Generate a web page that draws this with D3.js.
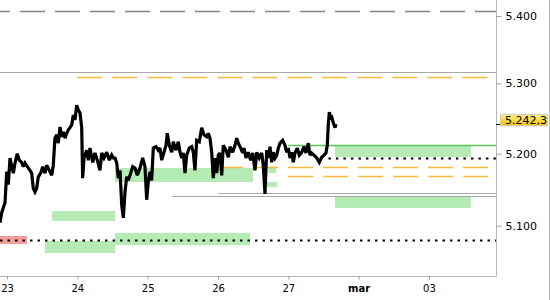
<!DOCTYPE html>
<html><head><meta charset="utf-8">
<script src="https://cdn.jsdelivr.net/npm/d3@7/dist/d3.min.js"></script>
<style>body{margin:0;background:#fff}svg{display:block}</style>
</head><body>
<svg id="c" width="550" height="300"></svg>
<script>
// ---------- data ----------
const dayLabels = ["23","24","25","26","27","mar","03"];
const dayIndex = [0,1,2,3,4,5,6];
const yTicks = [5.1,5.2,5.3,5.4];
const lastPrice = 5.2423;

const priceTimes = [
-0.100,-0.075,-0.053,-0.028,-0.004,0.018,0.043,0.067,0.090,0.114,
0.146,0.175,0.209,0.232,0.256,0.289,0.327,0.351,0.374,0.398,
0.422,0.445,0.479,0.508,0.540,0.564,0.601,0.636,0.658,0.682,
0.707,0.729,0.754,0.778,0.801,0.825,0.849,0.872,0.896,0.920,
0.943,0.967,0.991,1.014,1.038,1.062,1.076,1.095,1.133,1.156,
1.180,1.219,1.251,1.284,1.322,1.347,1.379,1.418,1.455,1.489,1.511,
1.536,1.560,1.583,1.607,1.631,1.654,1.678,1.702,1.725,1.759,
1.787,1.820,1.853,1.891,1.929,1.962,1.986,2.009,2.033,2.057,
2.080,2.119,2.151,2.175,2.200,2.232,2.261,2.279,2.308,2.342,
2.365,2.403,2.436,2.460,2.484,2.507,2.531,2.555,2.592,2.626,
2.649,2.673,2.697,2.734,2.768,2.801,2.840,2.862,2.886,2.911,
2.933,2.957,2.982,3.004,
3.029,3.053,3.075,3.114,3.147,3.171,3.209,3.242,3.266,3.289,
3.323,3.351,3.370,3.398,3.431,3.465,3.494,3.526,3.551,3.587,
3.622,3.644,3.668,3.693,3.715,3.740,3.764,3.786,3.811,3.835,
3.858,3.882,3.920,3.953,3.977,4.000,4.024,4.048,4.071,4.095,
4.128,4.156,4.190,4.223,4.251,4.284,4.308,4.332,4.365,4.404,
4.440,4.474,4.507,4.535,4.554,4.568,4.583,4.603,4.617,4.640,
4.664,4.678];
const priceValues = [
5.104,5.118,5.125,5.132,5.175,5.157,5.194,5.182,5.173,5.187,
5.200,5.191,5.188,5.182,5.187,5.182,5.177,5.173,5.152,5.147,
5.152,5.168,5.173,5.182,5.173,5.184,5.177,5.170,5.184,5.222,
5.227,5.215,5.238,5.224,5.231,5.222,5.229,5.234,5.237,5.241,
5.255,5.248,5.269,5.262,5.258,5.237,5.166,5.194,5.205,5.191,
5.208,5.188,5.201,5.191,5.177,5.201,5.194,5.202,5.191,5.198,5.194,
5.194,5.187,5.166,5.177,5.129,5.111,5.147,5.168,5.163,5.173,
5.182,5.180,5.170,5.180,5.194,5.182,5.136,5.161,5.175,5.163,
5.208,5.210,5.205,5.208,5.191,5.202,5.212,5.229,5.212,5.202,
5.217,5.205,5.217,5.202,5.194,5.201,5.173,5.198,5.208,5.210,
5.202,5.177,5.219,5.217,5.237,5.227,5.224,5.229,5.222,5.202,
5.166,5.194,5.173,5.198,
5.201,5.170,5.212,5.205,5.195,5.210,5.202,5.212,5.222,5.215,
5.208,5.201,5.208,5.194,5.202,5.191,5.201,5.177,5.202,5.194,
5.201,5.184,5.144,5.205,5.194,5.210,5.188,5.202,5.194,5.198,
5.208,5.215,5.219,5.212,5.202,5.208,5.194,5.202,5.188,5.201,
5.208,5.198,5.202,5.210,5.201,5.215,5.198,5.201,5.198,5.194,
5.188,5.195,5.198,5.201,5.212,5.241,5.259,5.251,5.252,5.244,
5.237,5.242];

// zones: [startDay, endDay, high, low]
const greenZones = [
  [0.540,1.536,5.0788,5.0621],
  [0.640,1.536,5.1204,5.1065],
  [1.536,3.455,5.0899,5.0732],
  [1.536,3.498,5.1801,5.1607],
  [3.640,3.839,5.1607,5.1538],
  [3.715,3.825,5.1819,5.1728],
  [4.664,6.597,5.2109,5.1954],
  [4.664,6.597,5.1415,5.1246]
];
const redZones = [[-0.0995,0.284,5.0857,5.0746]];

// horizontal levels: [startDay, value]
const greyDashedLevels = [[-0.0995,5.4074]];
const greySolidLevels = [[-0.0995,5.3170],[3.0,5.1450],[2.35,5.1408]];
const orangeDashedLevels = [[1.0,5.3094],[3.0,5.1811],[4.0,5.1686]];
const greenLevels = [[4.0,5.2124]];
const blackDottedLevels = [[-0.0995,5.0801],[4.57,5.1944]];

// ---------- drawing ----------
const svg = d3.select("#c");
const plotR = 496, plotB = 276;
const x = d3.scaleLinear().domain([-0.0995, 6.953]).range([0, plotR]);
const y = d3.scaleLinear().domain([5.1,5.2,5.3,5.4]).range([225.7,153.7,83.3,16]);
const xEnd = x.domain()[1];

// zones
svg.append("g").selectAll("rect").data(greenZones).join("rect")
  .attr("x", d => x(d[0])).attr("width", d => x(d[1]) - x(d[0]))
  .attr("y", d => y(d[2])).attr("height", d => y(d[3]) - y(d[2]))
  .attr("fill", "#b5ebb5");
svg.append("g").selectAll("rect").data(redZones).join("rect")
  .attr("x", d => x(d[0])).attr("width", d => x(d[1]) - x(d[0]))
  .attr("y", d => y(d[2])).attr("height", d => y(d[3]) - y(d[2]))
  .attr("fill", "#f59c9c");

function levels(data, stroke, width, dash, offset) {
  svg.append("g").selectAll("line").data(data).join("line")
    .attr("x1", d => x(d[0])).attr("x2", x(xEnd))
    .attr("y1", d => Math.round(y(d[1])) + 0.5).attr("y2", d => Math.round(y(d[1])) + 0.5)
    .attr("stroke", stroke).attr("stroke-width", width)
    .attr("stroke-dasharray", dash || null)
    .attr("stroke-dashoffset", offset || 0);
}
levels(greyDashedLevels, "#858585", 1.3, "25,10", 15);
levels(greySolidLevels, "#a8a8a8", 1.2);
levels(orangeDashedLevels, "#f7b93a", 1.3, "25,10");
levels(greenLevels, "#58c458", 1.4);
levels(blackDottedLevels, "#000", 2, "2.5,5");

// price line
const pts = priceTimes.map((t, i) => [t, priceValues[i]]);
svg.append("path").datum(pts)
  .attr("fill", "none").attr("stroke", "#000").attr("stroke-width", 3.2)
  .attr("stroke-linejoin", "miter").attr("stroke-miterlimit", 2.5)
  .attr("d", d3.line().x(d => x(d[0])).y(d => y(d[1])));

// frame
svg.append("line").attr("x1", 0).attr("x2", plotR + 0.5).attr("y1", plotB + 0.5).attr("y2", plotB + 0.5)
  .attr("stroke", "#b4b4b4").attr("stroke-width", 1);
svg.append("line").attr("x1", plotR + 0.5).attr("x2", plotR + 0.5).attr("y1", 0).attr("y2", plotB + 0.5)
  .attr("stroke", "#b4b4b4").attr("stroke-width", 1);
svg.append("line").attr("x1", 549.5).attr("x2", 549.5).attr("y1", 0).attr("y2", 300)
  .attr("stroke", "#b4b4b4").attr("stroke-width", 1);

// x axis
const xAxis = svg.append("g").attr("transform", `translate(0,${plotB + 0.5})`)
  .call(d3.axisBottom(x).tickValues(dayIndex).tickFormat((d, i) => dayLabels[i]).tickSize(3).tickPadding(5));
xAxis.select(".domain").remove();
xAxis.selectAll(".tick line").attr("stroke", "#a0a0a0");
xAxis.selectAll(".tick text").attr("font-family", "DejaVu Sans, Verdana, sans-serif")
  .attr("font-size", 10).attr("fill", "#000")
  .attr("font-weight", (d, i) => dayLabels[i] === "mar" ? "bold" : "normal");

// y axis
const yAxis = svg.append("g").attr("transform", `translate(${plotR + 0.5},0)`)
  .call(d3.axisRight(y).tickValues(yTicks).tickFormat(d3.format(".3f")).tickSize(5).tickPadding(4));
yAxis.select(".domain").remove();
yAxis.selectAll(".tick line").attr("stroke", "#a0a0a0");
yAxis.selectAll(".tick text").attr("font-family", "DejaVu Sans, Verdana, sans-serif")
  .attr("font-size", 11).attr("fill", "#000");

// last price marker
const yl = y(lastPrice);
const defs = svg.append("defs");
const grad = defs.append("linearGradient").attr("id", "yg").attr("x1", 0).attr("y1", 0).attr("x2", 0).attr("y2", 1);
grad.append("stop").attr("offset", "0%").attr("stop-color", "#fff08a");
grad.append("stop").attr("offset", "100%").attr("stop-color", "#f2c200");
svg.append("line").attr("x1", plotR).attr("x2", plotR + 5).attr("y1", Math.round(yl) + 0.5).attr("y2", Math.round(yl) + 0.5)
  .attr("stroke", "#000").attr("stroke-width", 1);
svg.append("rect").attr("x", 500.5).attr("y", yl - 9.6).attr("width", 47).attr("height", 11.5)
  .attr("fill", "url(#yg)").attr("stroke", "#c8c8c8").attr("stroke-width", 1);
const s = d3.format(".4f")(lastPrice);
svg.append("text").attr("x", 505).attr("y", yl - 3.85).attr("dy", "0.35em")
  .attr("font-family", "DejaVu Sans, Verdana, sans-serif").attr("font-size", 11).attr("fill", "#000")
  .text(s.slice(0, -1) + "," + s.slice(-1));
</script>
</body></html>
